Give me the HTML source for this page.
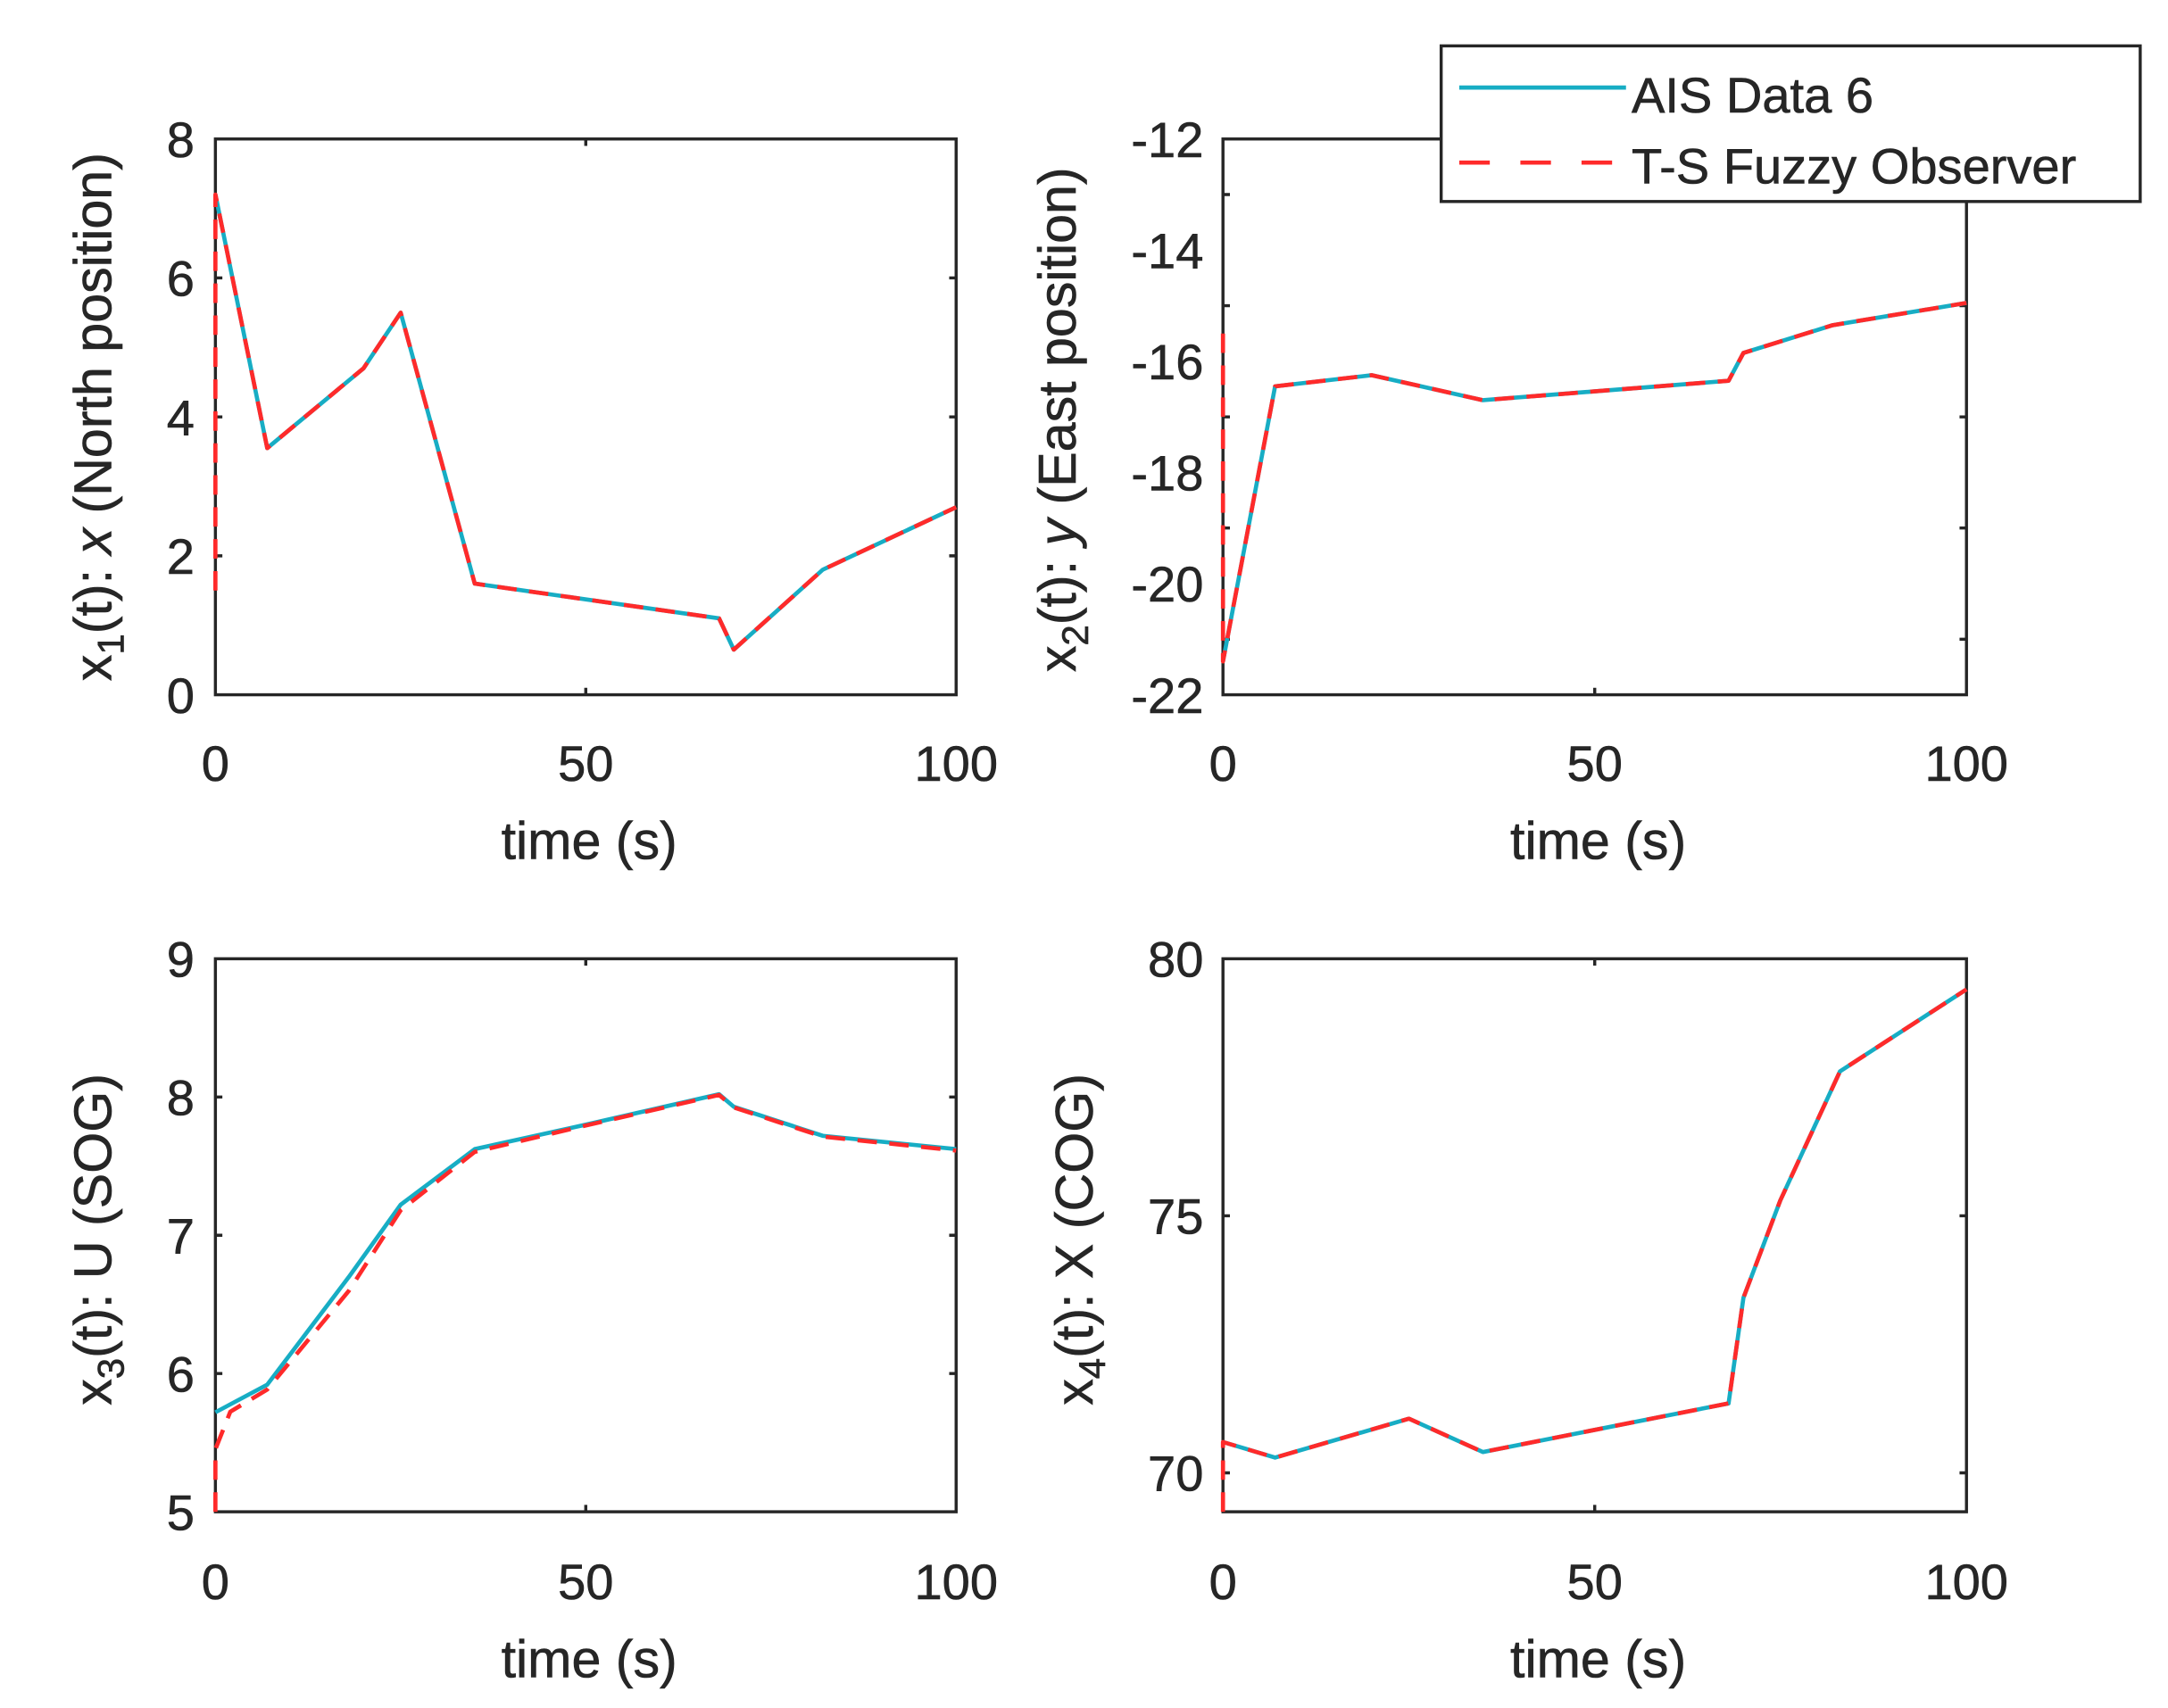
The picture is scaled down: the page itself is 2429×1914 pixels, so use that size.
<!DOCTYPE html>
<html><head><meta charset="utf-8"><style>html,body{margin:0;padding:0;background:#fff;}svg{display:block}</style></head>
<body>
<svg width="2429" height="1914" viewBox="0 0 1560 1229.2" xmlns="http://www.w3.org/2000/svg" font-family="Liberation Sans, sans-serif" fill="#262626">
<rect width="1560" height="1229.2" fill="#fff"/>
<g fill="none" stroke="#262626" stroke-width="2.2">
<rect x="155" y="100" width="533" height="400"/>
<rect x="880" y="100" width="535" height="400"/>
<rect x="155" y="690" width="533" height="398"/>
<rect x="880" y="690" width="535" height="398"/>
<path d="M155 400h5M155 300h5M155 200h5M688 400h-5M688 300h-5M688 200h-5M421.5 500v-5M421.5 100v5"/>
<path d="M880 460h5M880 380h5M880 300h5M880 220h5M880 140h5M1415 460h-5M1415 380h-5M1415 300h-5M1415 220h-5M1415 140h-5M1147.5 500v-5M1147.5 100v5"/>
<path d="M155 988.5h5M155 889h5M155 789.5h5M688 988.5h-5M688 889h-5M688 789.5h-5M421.5 1088v-5M421.5 690v5"/>
<path d="M880 1060h5M880 875h5M1415 1060h-5M1415 875h-5M1147.5 1088v-5M1147.5 690v5"/>
</g>
<g fill="none" stroke-width="3" stroke-linejoin="round">
<polyline stroke="#17adc4" points="155,140 192.3,322.5 261.6,265 288.3,225 341.6,420 517.4,445 528,467.5 592,410 688,365"/>
<polyline stroke="#ff2a2a" stroke-dasharray="14,9" points="155,425 155,140 192.3,322.5 261.6,265 288.3,225 341.6,420 517.4,445 528,467.5 592,410 688,365"/>
<polyline stroke="#17adc4" points="880,476 917.5,278 987,270 1067,288 1243.8,274 1254.5,254 1318.7,234 1415,218"/>
<polyline stroke="#ff2a2a" stroke-dasharray="14,9" points="880,240 880,476 917.5,278 987,270 1067,288 1243.8,274 1254.5,254 1318.7,234 1415,218"/>
<polyline stroke="#17adc4" points="155,1016.4 192.3,996.5 251,919 288.3,867 341.6,827 421.5,809.4 517.4,787.5 528,796.5 592,817.4 688,827"/>
<polyline stroke="#ff2a2a" stroke-dasharray="14,9" points="155,1088 155,1043 165.7,1016 192.3,1000 251,929 288.3,871 341.6,829 421.5,810 517.4,788 528,797 592,818 688,828"/>
<polyline stroke="#17adc4" points="880,1037.8 917.5,1049 1013.8,1021 1067,1045 1243.8,1010 1254.5,934 1281,864 1324,771 1415,712"/>
<polyline stroke="#ff2a2a" stroke-dasharray="14,9" points="880,1088 880,1037.8 917.5,1049 1013.8,1021 1067,1045 1243.8,1010 1254.5,934 1281,864 1324,771 1415,712"/>
</g>
<g font-size="36" text-anchor="end" stroke="#262626" stroke-width="0.4">
<text x="140" y="513">0</text><text x="140" y="413">2</text><text x="140" y="313">4</text><text x="140" y="213">6</text><text x="140" y="113">8</text>
<text x="866" y="513">-22</text><text x="866" y="433">-20</text><text x="866" y="353">-18</text><text x="866" y="273">-16</text><text x="866" y="193">-14</text><text x="866" y="113">-12</text>
<text x="140" y="1101">5</text><text x="140" y="1001.5">6</text><text x="140" y="902">7</text><text x="140" y="802.5">8</text><text x="140" y="703">9</text>
<text x="866" y="1073">70</text><text x="866" y="888">75</text><text x="866" y="703">80</text>
</g>
<g font-size="36" text-anchor="middle" stroke="#262626" stroke-width="0.4">
<text x="155" y="562">0</text><text x="421.5" y="562">50</text><text x="688" y="562">100</text>
<text x="880" y="562">0</text><text x="1147.5" y="562">50</text><text x="1415" y="562">100</text>
<text x="155" y="1151">0</text><text x="421.5" y="1151">50</text><text x="688" y="1151">100</text>
<text x="880" y="1151">0</text><text x="1147.5" y="1151">50</text><text x="1415" y="1151">100</text>
</g>
<g font-size="38" text-anchor="middle" stroke="#262626" stroke-width="0.4">
<text x="424" y="618">time (s)</text><text x="1150" y="618">time (s)</text>
<text x="424" y="1207">time (s)</text><text x="1150" y="1207">time (s)</text>
<text transform="translate(80,300) rotate(-90)">x<tspan font-size="27" dy="9">1</tspan><tspan dy="-9">(t): </tspan><tspan font-style="italic">x</tspan> (North position)</text>
<text transform="translate(774,302) rotate(-90)">x<tspan font-size="27" dy="9">2</tspan><tspan dy="-9">(t): </tspan><tspan font-style="italic">y</tspan> (East position)</text>
<text transform="translate(80,892) rotate(-90)">x<tspan font-size="27" dy="9">3</tspan><tspan dy="-9">(t): U (SOG)</tspan></text>
<text transform="translate(786,892) rotate(-90)">x<tspan font-size="27" dy="9">4</tspan><tspan dy="-9">(t): X (COG)</tspan></text>
</g>
<rect x="1037" y="33" width="503" height="112" fill="#fff" stroke="#262626" stroke-width="2.2"/>
<line x1="1050" y1="63" x2="1170" y2="63" stroke="#17adc4" stroke-width="3"/>
<line x1="1050" y1="117" x2="1170" y2="117" stroke="#ff2a2a" stroke-width="3" stroke-dasharray="22,22"/>
<g font-size="36" stroke="#262626" stroke-width="0.4"><text x="1174" y="81">AIS Data 6</text><text x="1174" y="132">T-S Fuzzy Observer</text></g>
</svg>
</body></html>
